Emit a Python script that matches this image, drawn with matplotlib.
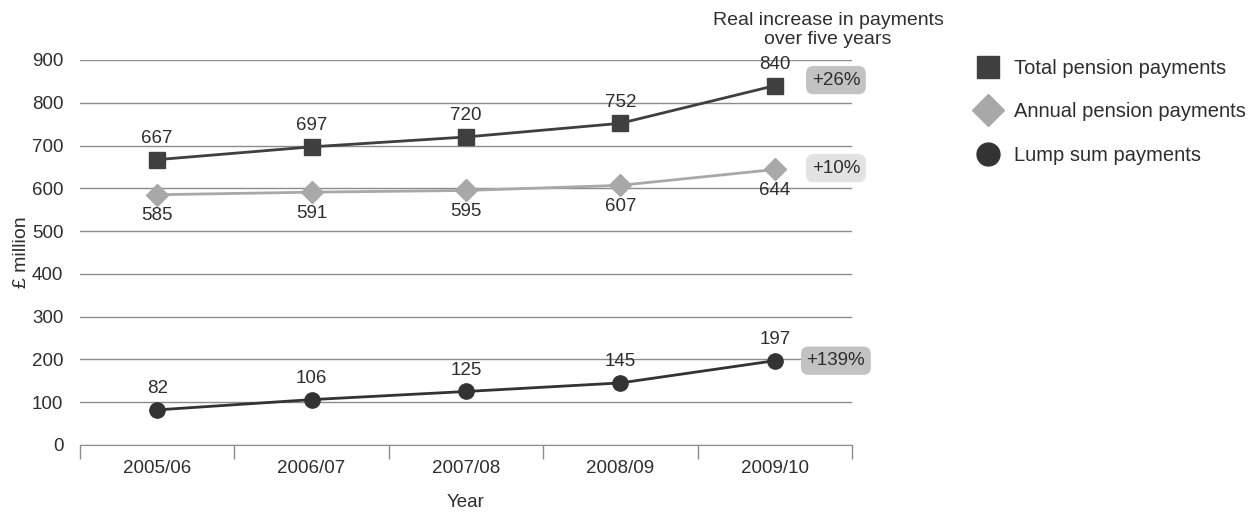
import matplotlib.pyplot as plt
import numpy as np

plt.rcParams['font.family'] = ['Liberation Sans', 'DejaVu Sans']

years = ["2005/06", "2006/07", "2007/08", "2008/09", "2009/10"]
total_payments = [667, 697, 720, 752, 840]
annual_payments = [585, 591, 595, 607, 644]
lump_sum = [82, 106, 125, 145, 197]
increase_labels = ["+26%", "+10%", "+139%"]

TEXT = "#2e2e2e"
GRID = "#8c8c8c"
FS = 13.5

fig = plt.figure(figsize=(12.55, 5.15), dpi=100)
ax = fig.add_axes([0.0637, 0.136, 0.6152, 0.7475])

x = np.arange(len(years))
ax.set_xlim(-0.5, len(years) - 0.5)
ax.set_ylim(0, 900)

ax.plot(x, total_payments, color="#3f3f3f", lw=2, marker="s", ms=11,
        clip_on=False, zorder=4, label="Total pension payments")
ax.plot(x, annual_payments, color="#a8a8a8", lw=2, marker="D", ms=11,
        clip_on=False, zorder=4, label="Annual pension payments")
ax.plot(x, lump_sum, color="#333333", lw=2, marker="o", ms=11,
        clip_on=False, zorder=4, label="Lump sum payments")

for xi, v in zip(x, total_payments):
    ax.annotate(str(v), (xi, v), xytext=(0, 9), textcoords="offset points",
                ha="center", va="bottom", fontsize=FS, color=TEXT)
for xi, v in zip(x, annual_payments):
    ax.annotate(str(v), (xi, v), xytext=(0, -9), textcoords="offset points",
                ha="center", va="top", fontsize=FS, color=TEXT)
for xi, v in zip(x, lump_sum):
    ax.annotate(str(v), (xi, v), xytext=(0, 9), textcoords="offset points",
                ha="center", va="bottom", fontsize=FS, color=TEXT)

# percentage boxes to the right of the last point
ends = [total_payments[-1], annual_payments[-1], lump_sum[-1]]
box_cols = ["#c2c2c2", "#e2e2e2", "#c2c2c2"]
box_dy = [4, 1, 0]
for v, lab, bc, dy in zip(ends, increase_labels, box_cols, box_dy):
    ax.annotate(lab, (x[-1], v), xytext=(44, dy), textcoords="offset points",
                ha="center", va="center", fontsize=FS, color=TEXT,
                bbox=dict(boxstyle="round,pad=0.3,rounding_size=0.4", fc=bc, ec="none"),
                annotation_clip=False)

ax.text(0.969, 1.03, "Real increase in payments\nover five years", transform=ax.transAxes,
        ha="center", va="bottom", fontsize=14, color=TEXT, linespacing=1.2)

ax.set_yticks(range(0, 1000, 100))
ax.yaxis.grid(True, color=GRID, lw=1)
ax.set_axisbelow(True)
ax.tick_params(axis="y", length=0, pad=12, labelsize=FS, labelcolor=TEXT)

ax.set_xticks(x)
ax.set_xticklabels(years)
ax.set_xticks(np.arange(-0.5, len(years)), minor=True)
ax.tick_params(axis="x", which="major", length=0, pad=11, labelsize=FS, labelcolor=TEXT)
ax.tick_params(axis="x", which="minor", length=10, color=GRID, width=1)

for s in ["top", "right", "left"]:
    ax.spines[s].set_visible(False)
ax.spines["bottom"].set_color(GRID)

ax.set_xlabel("Year", fontsize=FS, color=TEXT, labelpad=12)
ax.set_ylabel("£ million", fontsize=14, color=TEXT, labelpad=1)

fig.legend(loc="upper left", bbox_to_anchor=(0.763, 0.92), frameon=False,
           fontsize=14.5, labelcolor=TEXT, handlelength=1.2, handletextpad=0.7,
           labelspacing=1.2, markerscale=1.5)
for h in fig.legends[0].legend_handles:
    h.set_linestyle("none")

fig.savefig("out.png", dpi=100)
